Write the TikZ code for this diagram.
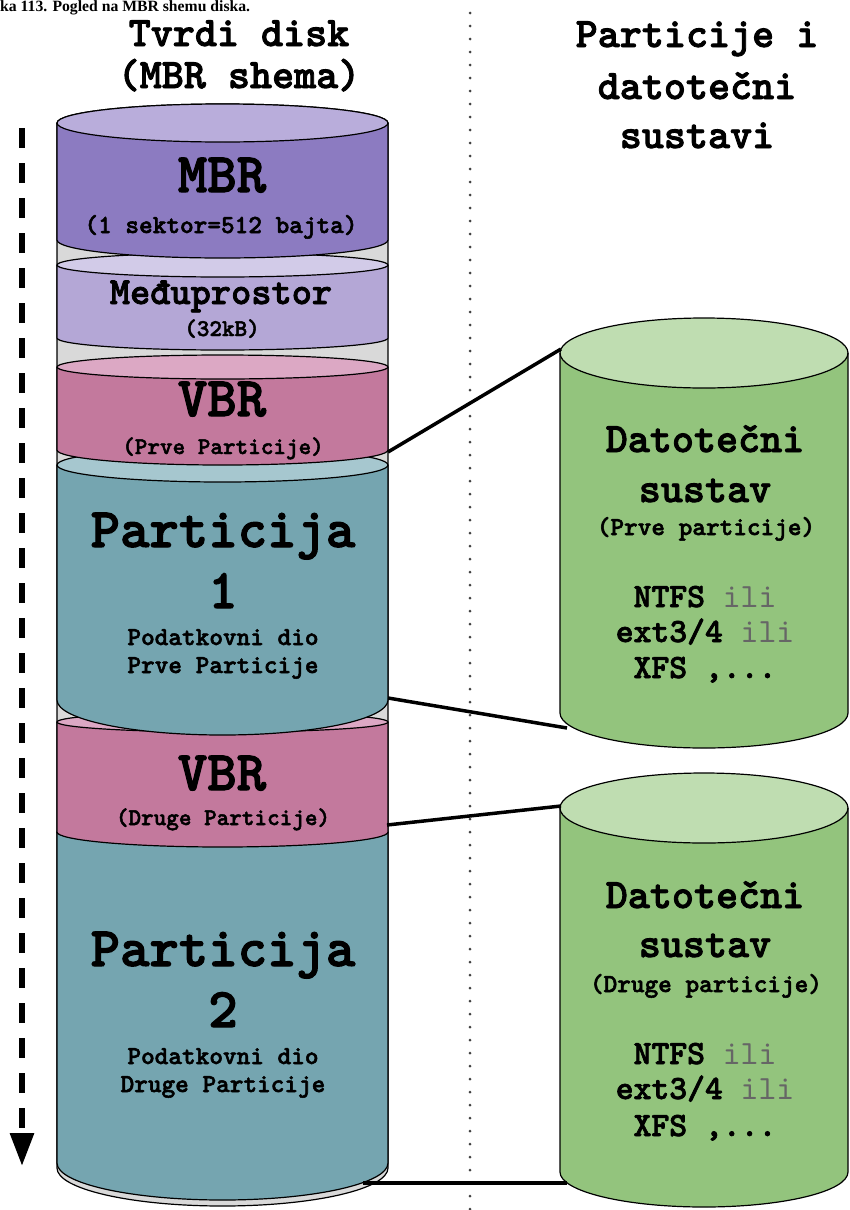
\documentclass[tikz,border=0pt]{standalone}
\usepackage{fontspec}
\setmainfont{Liberation Serif}
\newfontfamily\diskfont{lmmonolt10-bold}[Extension=.otf,FakeBold=2]
\newfontfamily\ilifont{lmmono10-regular}[Extension=.otf]
\usetikzlibrary{arrows.meta}

\definecolor{diskgap}{HTML}{D9D9D9}
\definecolor{mbrbody}{HTML}{8C7BC1}
\definecolor{mbrtop}{HTML}{B9ADDB}
\definecolor{medjubody}{HTML}{B4A7D6}
\definecolor{medjutop}{HTML}{D2CBE8}
\definecolor{vbrbody}{HTML}{C3799D}
\definecolor{vbrtop}{HTML}{DCA8C4}
\definecolor{partbody}{HTML}{75A5B0}
\definecolor{parttop}{HTML}{A6C7CF}
\definecolor{fsbody}{HTML}{93C47D}
\definecolor{fstop}{HTML}{BFDDB1}

% sloj diska: lijevo x, desno x, gornji y, ry gore, donji y, ry dolje, tijelo, poklopac
\newcommand{\disklayer}[8]{%
  \pgfmathsetmacro{\layerrx}{(#2-#1)/2}%
  \fill[#7] (#1,#3) -- (#1,#5) arc[start angle=180,end angle=360,x radius=\layerrx pt,y radius=#6 pt] -- (#2,#3) -- cycle;
  \filldraw[fill=#8,line width=1.2pt] ({(#1+#2)/2},#3) ellipse[x radius=\layerrx pt,y radius=#4 pt];
  \draw[line width=1.2pt] (#1,#3) -- (#1,#5) arc[start angle=180,end angle=360,x radius=\layerrx pt,y radius=#6 pt] -- (#2,#3);
}

\begin{document}
\begin{tikzpicture}[x=1pt,y=-1pt,>={Triangle[length=33pt,width=23pt]},
    lbl/.style={anchor=base,inner sep=0pt,text=black},
    bigtxt/.style={lbl,font=\diskfont\fontsize{56}{56}\selectfont},
    headtxt/.style={lbl,font=\diskfont\fontsize{42}{42}\selectfont},
    midtxt/.style={lbl,font=\diskfont\fontsize{38.5}{38.5}\selectfont},
    subtxt/.style={lbl,font=\diskfont\fontsize{26}{26}\selectfont},
    smalltxt/.style={lbl,font=\diskfont\fontsize{24}{24}\selectfont},
    fstxt/.style={lbl,font=\diskfont\fontsize{34}{34}\selectfont},
    link/.style={line width=3.5pt},
  ]
  \useasboundingbox (0,0) rectangle (849,1210);

  % naslov slike
  \node[anchor=base west,inner sep=0pt,font=\bfseries\fontsize{15.7}{16}\selectfont] (slika) at (0,11) {ka 113. Pogled na MBR shemu diska.};

  % razdjelnica
  \coordinate (divtop) at (470,13);
  \coordinate (divbot) at (470,1210);
  \draw[line width=3pt,line cap=round,dash pattern=on 0pt off 13pt,black!75] (divtop) -- (divbot);

  % smjer citanja
  \coordinate (tracktop) at (22,128);
  \coordinate (trackend) at (22,1166);
  \draw[->,line width=6pt,dash pattern=on 20pt off 15pt] (tracktop) -- (trackend);

  % tvrdi disk, slojevi odozdo prema gore
  \disklayer{57}{388}{123}{19}{1168}{38}{diskgap}{diskgap}
  \disklayer{57}{388}{832}{13}{1163}{37}{partbody}{parttop}
  \disklayer{57}{388}{722}{10}{832}{15}{vbrbody}{vbrtop}
  \disklayer{57}{388}{465}{17}{700}{35}{partbody}{parttop}
  \disklayer{57}{388}{367}{12}{450}{15}{vbrbody}{vbrtop}
  \disklayer{57}{388}{265}{12}{338}{12}{medjubody}{medjutop}
  \disklayer{57}{388}{123}{19}{240}{18}{mbrbody}{mbrtop}

  % datotecni sustavi
  \disklayer{560}{848}{353}{35}{713}{35}{fsbody}{fstop}
  \disklayer{560}{848}{808}{35}{1172}{35}{fsbody}{fstop}

  % veze
  \coordinate (vbrAedge) at (388,452);
  \coordinate (fsAtop) at (561,349);
  \coordinate (partAedge) at (388,698);
  \coordinate (fsAbot) at (567,728);
  \coordinate (vbrBedge) at (387,825);
  \coordinate (fsBtop) at (561,806);
  \coordinate (partBedge) at (363,1183);
  \coordinate (fsBbot) at (567,1183);
  \draw[link] (vbrAedge) -- (fsAtop);
  \draw[link] (partAedge) -- (fsAbot);
  \draw[link] (vbrBedge) -- (fsBtop);
  \draw[link] (partBedge) -- (fsBbot);

  % naslovi stupaca
  \node[headtxt] (tvrdi) at (239,46) {Tvrdi disk};
  \node[headtxt] (shema) at (239,88) {(MBR shema)};
  \node[headtxt] (particije) at (697,47) {Particije i};
  \node[headtxt] (datotecni) at (697,99) {datotečni};
  \node[headtxt] (sustavi) at (697,148) {sustavi};

  % oznake na disku
  \node[bigtxt] (mbr) at (222,192) {MBR};
  \node[subtxt] (mbrsz) at (221,233) {(1 sektor=512 bajta)};
  \node[midtxt] (medju) at (221,304) {Međuprostor};
  \node[smalltxt] (medjusz) at (222,336) {(32kB)};
  \node[bigtxt] (vbrA) at (222,416) {VBR};
  \node[smalltxt] (vbrAsub) at (223,454) {(Prve Particije)};
  \node[bigtxt] (partA) at (223,547) {Particija};
  \node[bigtxt] (partAnum) at (223,608) {1};
  \node[subtxt] (partAdio) at (223,645) {Podatkovni dio};
  \node[subtxt] (partAwho) at (223,673) {Prve Particije};
  \node[bigtxt] (vbrB) at (222,790) {VBR};
  \node[smalltxt] (vbrBsub) at (223,825) {(Druge Particije)};
  \node[bigtxt] (partB) at (223,966) {Particija};
  \node[bigtxt] (partBnum) at (223,1027) {2};
  \node[subtxt] (partBdio) at (223,1064) {Podatkovni dio};
  \node[subtxt] (partBwho) at (223,1092) {Druge Particije};

  % oznake datotecnih sustava
  \node[headtxt] (fsAname) at (705,452) {Datotečni};
  \node[headtxt] (fsAkind) at (705,502) {sustav};
  \node[subtxt] (fsAwho) at (706,535) {(Prve particije)};
  \node[fstxt] (fsAlist1) at (705,607) {NTFS {\ilifont\color{black!60}ili}};
  \node[fstxt] (fsAlist2) at (705,642) {ext3/4 {\ilifont\color{black!60}ili}};
  \node[fstxt] (fsAlist3) at (705,678) {XFS ,...};
  \node[headtxt] (fsBname) at (705,908) {Datotečni};
  \node[headtxt] (fsBkind) at (705,957) {sustav};
  \node[subtxt] (fsBwho) at (706,992) {(Druge particije)};
  \node[fstxt] (fsBlist1) at (705,1064) {NTFS {\ilifont\color{black!60}ili}};
  \node[fstxt] (fsBlist2) at (705,1099) {ext3/4 {\ilifont\color{black!60}ili}};
  \node[fstxt] (fsBlist3) at (705,1136) {XFS ,...};
\end{tikzpicture}
\end{document}
